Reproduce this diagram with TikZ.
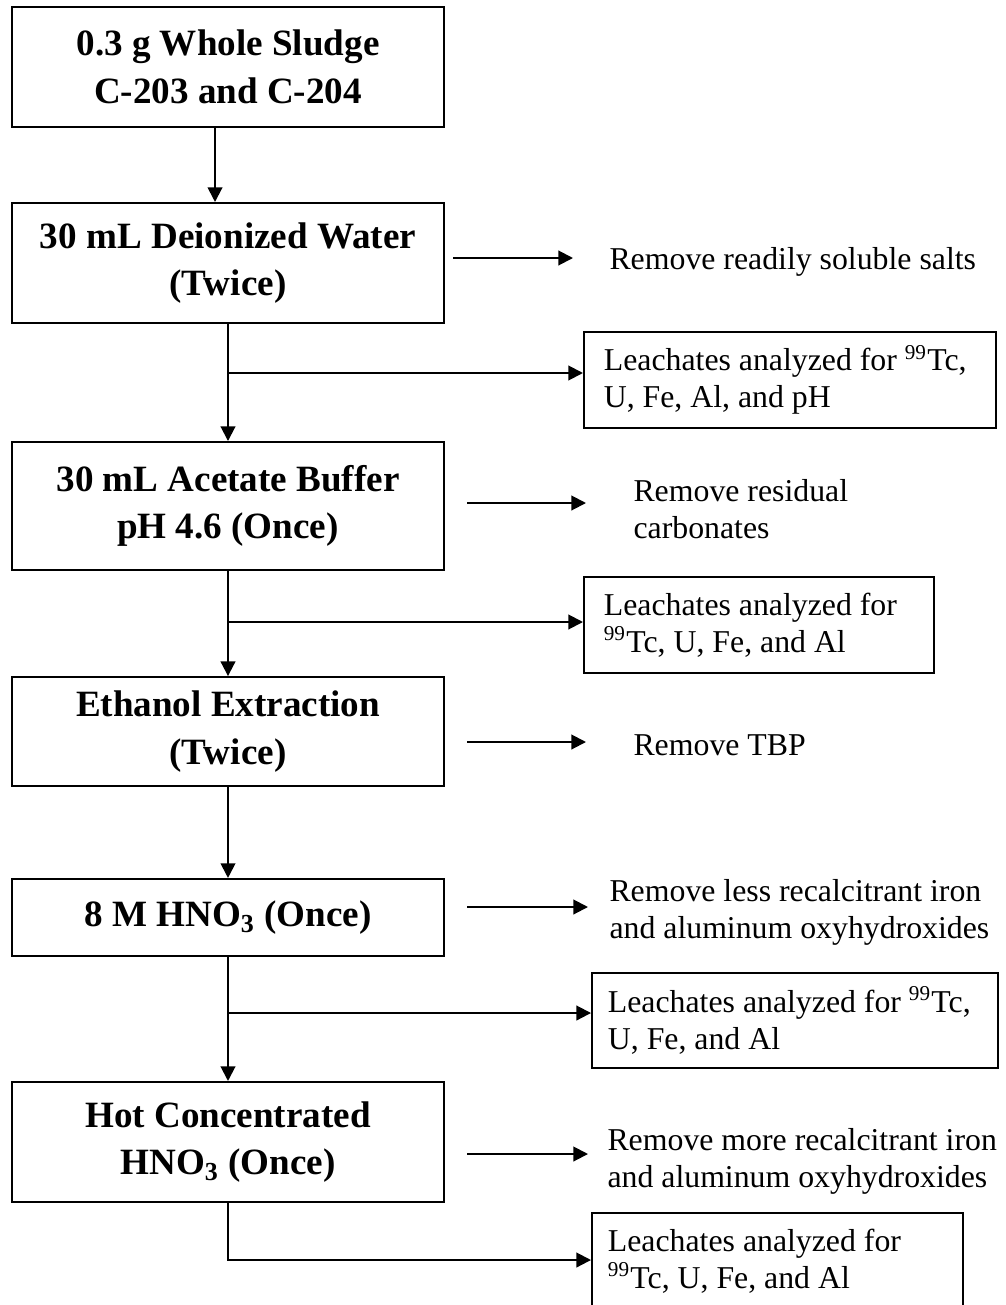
\documentclass[tikz,border=0pt]{standalone}
\usepackage{fontspec}
\setmainfont{Liberation Serif}
\usetikzlibrary{arrows.meta}

\tikzset{
    fase/.style={draw, line width=0.75pt, minimum width=163pt, inner sep=2pt,
                 align=center, font=\fontsize{14}{18}\selectfont\bfseries},
    analisi/.style={draw, line width=0.75pt, inner xsep=7.5pt, inner ysep=2pt,
                    align=flush left, font=\fontsize{12}{14}\selectfont},
    nota/.style={anchor=west, inner sep=0pt, align=left, font=\fontsize{12}{14}\selectfont},
    freccia/.style={line width=0.75pt, -{Triangle[length=5.5pt, width=5.5pt]}}
}

\begin{document}
\begin{tikzpicture}[x=0.3774pt, y=-0.3774pt]
    \useasboundingbox (0,0) rectangle (1005,1305);
    \clip (0,0) rectangle (1005,1305);

    % Passaggi di estrazione
    \node[fase, minimum height=45.3pt] (f1) at (228,67)    {0.3 g Whole Sludge\\C-203 and C-204};
    \node[fase, minimum height=45.3pt] (f2) at (228,263)   {30 mL Deionized Water\\(Twice)};
    \node[fase, minimum height=48.3pt] (f3) at (228,506)   {30 mL Acetate Buffer\\pH 4.6 (Once)};
    \node[fase, minimum height=41.1pt] (f4) at (228,731.5) {Ethanol Extraction\\(Twice)};
    \node[fase, minimum height=29.1pt] (f5) at (228,917.5) {8 M HNO\textsubscript{3} (Once)};
    \node[fase, minimum height=45.3pt] (f6) at (228,1142)  {Hot Concentrated\\HNO\textsubscript{3} (Once)};

    % Riquadri dei lisciviati
    \node[analisi, text width=140.5pt, minimum height=36.2pt] (l1) at (790,380)
        {Leachates analyzed for \textsuperscript{99}Tc,\\U, Fe, Al, and pH};
    \node[analisi, text width=117.1pt, minimum height=36.2pt] (l2) at (759,625)
        {Leachates analyzed for\\\textsuperscript{99}Tc, U, Fe, and Al};
    \node[analisi, inner xsep=6pt, text width=141.2pt, minimum height=35.8pt] (l3) at (795,1020.5)
        {Leachates analyzed for \textsuperscript{99}Tc,\\U, Fe, and Al};
    \node[analisi, inner xsep=6pt, text width=128pt, minimum height=36.2pt] (l4) at (777.5,1261)
        {Leachates analyzed for\\\textsuperscript{99}Tc, U, Fe, and Al};

    % Note a destra
    \node[nota] (r2) at (609,262)  {Remove readily soluble salts};
    \node[nota] (r3) at (633,509)  {Remove residual\\carbonates};
    \node[nota] (r4) at (633,745)  {Remove TBP};
    \node[nota] (r5) at (609,912)  {Remove less recalcitrant iron\\and aluminum oxyhydroxides};
    \node[nota] (r6) at (607,1161) {Remove more recalcitrant iron\\and aluminum oxyhydroxides};

    % Punti di partenza e di arrivo delle frecce
    \coordinate (s2) at (453,258);  \coordinate (e2) at (573,258);
    \coordinate (s3) at (467,503);  \coordinate (e3) at (586,503);
    \coordinate (s4) at (467,742);  \coordinate (e4) at (586,742);
    \coordinate (s5) at (467,907);  \coordinate (e5) at (588,907);
    \coordinate (s6) at (467,1154); \coordinate (e6) at (588,1154);
    \coordinate (d1) at (228,373);
    \coordinate (d2) at (228,622);
    \coordinate (d3) at (228,1013);
    \coordinate (d4) at (228,1260);

    % Frecce verticali
    \draw[freccia] ([xshift=-4.9pt]f1.south) -- ([xshift=-4.9pt]f2.north);  % 1 -> 2
    \draw[freccia] (f2.south) -- (f3.north);  % 2 -> 3
    \draw[freccia] (f3.south) -- (f4.north);  % 3 -> 4
    \draw[freccia] (f4.south) -- (f5.north);  % 4 -> 5
    \draw[freccia] (f5.south) -- (f6.north);  % 5 -> 6

    % Diramazioni verso i lisciviati
    \draw[freccia] (d1) -- (d1 -| l1.west);
    \draw[freccia] (d2) -- (d2 -| l2.west);
    \draw[freccia] (d3) -- (d3 -| l3.west);
    \draw[freccia] (f6.south) |- (d4 -| l4.west);

    % Frecce verso le note
    \draw[freccia] (s2) -- (e2);
    \draw[freccia] (s3) -- (e3);
    \draw[freccia] (s4) -- (e4);
    \draw[freccia] (s5) -- (e5);
    \draw[freccia] (s6) -- (e6);

\end{tikzpicture}
\end{document}
